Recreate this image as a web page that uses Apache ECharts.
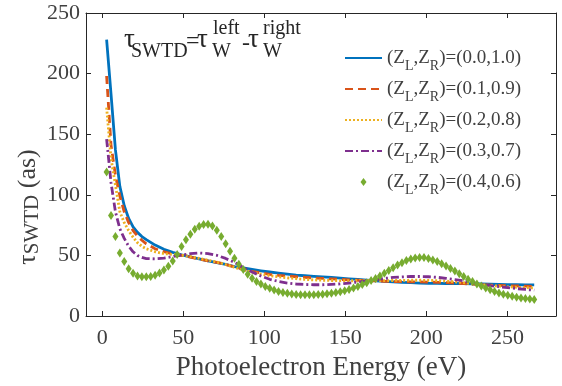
<!DOCTYPE html>
<html><head><meta charset="utf-8">
<script src="https://cdn.jsdelivr.net/npm/echarts@6/dist/echarts.min.js"></script>
<style>html,body{margin:0;padding:0;background:#fff}#c{width:562px;height:386px}</style>
</head><body><div id="c"></div>
<script>
// Photoelectron energy grid (eV) for the line series
const energyLine = [2.72, 5.44, 8.16, 10.88, 13.6, 16.32, 19.04, 21.76, 24.48, 27.2,
  32.64, 38.08, 43.52, 48.96, 54.4, 59.84, 65.28, 70.72, 76.16, 81.6,
  87.04, 92.48, 97.92, 103.36, 108.8, 114.24, 119.68, 125.12, 130.56, 136,
  141.44, 146.88, 152.32, 157.76, 163.2, 168.64, 174.08, 179.52, 184.96, 190.4,
  195.84, 201.28, 206.72, 212.16, 217.6, 223.04, 228.48, 233.92, 239.36, 244.8,
  250.24, 255.68, 261.12, 266.56];
// energy grid for the marker series
const energyPts = [2.72, 5.44, 8.16, 10.88, 13.60, 16.32, 19.04, 21.76, 24.48, 27.20,
  29.92, 32.64, 35.36, 38.08, 40.80, 43.52, 46.24, 48.96, 51.68, 54.40,
  57.12, 59.84, 62.56, 65.28, 68.00, 70.72, 73.44, 76.16, 78.88, 81.60,
  84.32, 87.04, 89.76, 92.48, 95.20, 97.92, 100.64, 103.36, 106.08, 108.80,
  111.52, 114.24, 116.96, 119.68, 122.40, 125.12, 127.84, 130.56, 133.28, 136.00,
  138.72, 141.44, 144.16, 146.88, 149.60, 152.32, 155.04, 157.76, 160.48, 163.20,
  165.92, 168.64, 171.36, 174.08, 176.80, 179.52, 182.24, 184.96, 187.68, 190.40,
  193.12, 195.84, 198.56, 201.28, 204.00, 206.72, 209.44, 212.16, 214.88, 217.60,
  220.32, 223.04, 225.76, 228.48, 231.20, 233.92, 236.64, 239.36, 242.08, 244.80,
  247.52, 250.24, 252.96, 255.68, 258.40, 261.12, 263.84, 266.56];

const tau00 = [228, 183, 137, 107, 91, 80.5, 73.5, 69, 65.5, 63,
  58.5, 55, 52.5, 50.4, 48.8, 47.2, 45.4, 44, 42.6, 40.8,
  39.6, 38.4, 37.3, 36.3, 35.4, 34.6, 33.8, 33.2, 32.7, 32.2,
  31.8, 31.3, 30.7, 30.2, 29.6, 29.1, 28.6, 28.2, 27.8, 27.5,
  27.2, 27.0, 26.9, 26.8, 26.8, 26.7, 26.6, 26.4, 26.2, 26.0,
  25.9, 25.8, 25.7, 25.6];
const tau01 = [198, 141, 116, 99, 86, 77, 70.5, 66, 62.5, 59.5,
  55.5, 53, 51.2, 50, 48.6, 47, 45.5, 44.3, 42.6, 40.4,
  38.4, 36.8, 35.5, 34.4, 33.6, 33.0, 32.4, 31.9, 31.4, 31.0,
  30.6, 30.2, 29.8, 29.5, 29.2, 28.9, 28.6, 28.4, 28.3, 28.2,
  28.1, 28.0, 27.8, 27.5, 27.2, 26.8, 26.3, 25.9, 25.5, 25.2,
  25.0, 24.8, 24.6, 24.4];
const tau02 = [172, 130, 108, 86, 77, 70.5, 65, 60.5, 57.5, 55.5,
  53, 51.5, 50.8, 50.2, 49, 47.5, 46, 44.5, 42.5, 40.2,
  38, 36.2, 34.6, 33.3, 32.3, 31.5, 30.8, 30.2, 29.8, 29.5,
  29.3, 29.2, 29.1, 29.1, 29.1, 29.1, 29.2, 29.3, 29.4, 29.5,
  29.5, 29.4, 29.2, 28.8, 28.2, 27.5, 26.7, 25.9, 25.2, 24.6,
  24.1, 23.7, 23.4, 23.2];
const tau03 = [146, 110, 86, 72, 64, 57.5, 53, 50, 48.3, 47.4,
  47.2, 47.8, 49, 50.3, 51.4, 52, 51.5, 50, 47.5, 44.3,
  40, 36.3, 33, 30.3, 28.5, 27.2, 26.4, 26, 25.8, 25.8,
  26.1, 26.5, 27.2, 28, 29, 30, 31, 31.8, 32.3, 32.6,
  32.6, 32.4, 31.9, 31.1, 30.1, 29, 27.5, 26.3, 25.1, 24.2,
  23.4, 22.6, 21.9, 21.3];
const tau04 = [118.8, 83, 65.6, 52, 45, 39, 35.2, 33, 32.3, 32.3,
  32.5, 33.6, 35.5, 37.9, 41, 45.4, 50.8, 57.3, 62.9, 67.5,
  71.5, 74.0, 75.5, 75.6, 74.2, 70.8, 65.5, 59.6, 53.5, 47.6,
  42.7, 38.3, 34.4, 31.1, 28.5, 26.3, 24.4, 22.8, 21.4, 20.3,
  19.4, 18.7, 18.2, 17.8, 17.6, 17.5, 17.5, 17.6, 17.8, 18.0,
  18.3, 18.8, 19.3, 20.0, 20.8, 21.8, 23.0, 24.4, 25.9, 27.5,
  29.2, 31.0, 33.1, 35.3, 37.6, 39.9, 42.0, 44.0, 45.8, 47.0,
  47.9, 48.3, 48.2, 47.5, 46.3, 44.9, 43.2, 41.3, 39.2, 37.1,
  34.9, 32.6, 30.4, 28.4, 26.5, 24.8, 23.2, 21.7, 20.3, 19.0,
  18.0, 17.1, 16.3, 15.5, 14.9, 14.4, 14.0, 13.7];

const seriesNames = ['(0.0,1.0)', '(0.1,0.9)', '(0.2,0.8)', '(0.3,0.7)', '(0.4,0.6)'];
const xTickValues = [0, 50, 100, 150, 200, 250];

const FONT = 'Liberation Serif';
const AX = '#262626';
const TXT = '#404040';
const COLORS = ['#0072BD', '#D95319', '#EDB120', '#7E2F8E', '#77AC30'];

function pairs(xs, ys) { return xs.map((x, i) => [x, ys[i]]); }

function lineSeries(i, data, dash) {
  return {
    name: seriesNames[i], type: 'line', data: pairs(energyLine, data),
    showSymbol: false, symbol: 'none', smooth: false,
    lineStyle: { color: COLORS[i], width: 2.8, type: dash, cap: 'butt', join: 'round' },
    itemStyle: { color: COLORS[i] },
    z: 2 + i, animation: false
  };
}

const chart = echarts.init(document.getElementById('c'), null, { renderer: 'canvas' });

const xCommon = {
  type: 'value', min: -10, max: 280,
  axisLine: { show: true, onZero: false, lineStyle: { color: AX, width: 1 } },
  axisTick: { show: true, inside: true, length: 5, customValues: xTickValues, lineStyle: { color: AX } },
  splitLine: { show: false }
};
const yCommon = {
  type: 'value', min: 0, max: 250, interval: 50,
  axisLine: { show: true, onZero: false, lineStyle: { color: AX, width: 1 } },
  axisTick: { show: true, inside: true, length: 5, lineStyle: { color: AX } },
  splitLine: { show: false }
};

const legendData = seriesNames.map((n, i) => i < 4
  ? { name: n, itemStyle: { opacity: 0 } }
  : { name: n, icon: 'path://M0,-4L3,0L0,4L-3,0Z', itemStyle: { color: COLORS[4] } });

const option = {
  backgroundColor: '#fff',
  animation: false,
  grid: { left: 86, right: 6, top: 13, bottom: 63, containLabel: false },
  xAxis: [
    Object.assign({}, xCommon, {
      position: 'bottom',
      axisLabel: { show: true, customValues: xTickValues, margin: 11, fontFamily: FONT, fontSize: 22, color: TXT },
      name: 'Photoelectron Energy (eV)', nameLocation: 'middle', nameGap: 38,
      nameTextStyle: { fontFamily: FONT, fontSize: 27, color: TXT }
    }),
    Object.assign({}, xCommon, { position: 'top', axisLabel: { show: false } })
  ],
  yAxis: [
    Object.assign({}, yCommon, {
      position: 'left',
      axisLabel: { show: true, margin: 6, fontFamily: FONT, fontSize: 22, color: TXT }
    }),
    Object.assign({}, yCommon, { position: 'right', axisLabel: { show: false } })
  ],
  legend: {
    orient: 'vertical', left: 339, top: 38, itemWidth: 37, itemHeight: 8, itemGap: 1,
    symbolKeepAspect: true,
    data: legendData,
    formatter: (n) => '(Z{s|L},Z{s|R})=' + n,
    textStyle: {
      fontFamily: FONT, fontSize: 19, color: TXT, lineHeight: 30,
      rich: { s: { fontFamily: FONT, fontSize: 14, color: TXT, lineHeight: 12, verticalAlign: 'bottom' } }
    }
  },
  series: [
    lineSeries(0, tau00, 'solid'),
    lineSeries(1, tau01, [8, 5]),
    lineSeries(2, tau02, [2, 2]),
    lineSeries(3, tau03, [8, 3, 2, 3]),
    {
      name: seriesNames[4], type: 'scatter', data: pairs(energyPts, tau04),
      symbol: 'diamond', symbolSize: [6, 9],
      itemStyle: { color: COLORS[4], opacity: 1 }, z: 10, animation: false
    }
  ],
  graphic: [
    { type: 'text', x: 28, y: 207, rotation: Math.PI / 2,
      style: { text: '{t|τ}{s|SWTD}{m| (as)}', align: 'center', verticalAlign: 'middle', textAlign: 'center', textVerticalAlign: 'middle',
        rich: {
          t: { fontFamily: FONT, fontSize: 26, fill: TXT, color: TXT, lineHeight: 30, verticalAlign: 'middle' },
          s: { fontFamily: FONT, fontSize: 21, fill: TXT, color: TXT, lineHeight: 20, verticalAlign: 'bottom' },
          m: { fontFamily: FONT, fontSize: 26, fill: TXT, color: TXT, lineHeight: 30, verticalAlign: 'middle' }
        } } },
    ...[
      ['τ', 124, 40, 27], ['SWTD', 131, 52, 20], ['=', 186, 42, 24], ['τ', 197, 40, 27],
      ['left', 213, 29, 20], ['W', 212, 52, 20], ['-', 242, 44, 24], ['τ', 248, 40, 27],
      ['right', 263, 29, 20], ['W', 263, 52, 20]
    ].map(([t, x, y, fs]) => ({
      type: 'text', x: x, y: y, z: 100,
      style: { text: t, fontFamily: FONT, fontSize: fs, fill: '#262626', align: 'left', verticalAlign: 'middle', textAlign: 'left', textVerticalAlign: 'middle' }
    }))
  ]
};
chart.setOption(option);
</script>
</body></html>
